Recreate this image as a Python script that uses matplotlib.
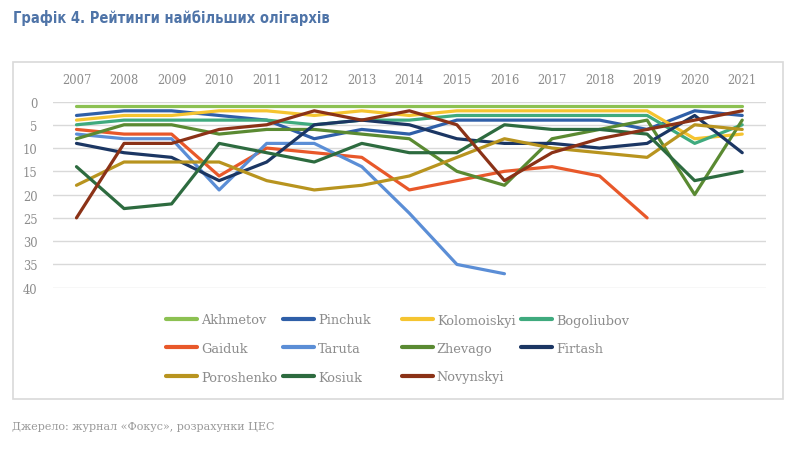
import matplotlib
matplotlib.use("Agg")
import matplotlib.pyplot as plt
import numpy as np
from matplotlib.patches import Rectangle

nan = np.nan
years = [2007, 2008, 2009, 2010, 2011, 2012, 2013, 2014, 2015, 2016, 2017, 2018, 2019, 2020, 2021]

names = ["Akhmetov", "Pinchuk", "Kolomoiskyi", "Bogoliubov", "Gaiduk", "Taruta",
         "Zhevago", "Firtash", "Poroshenko", "Kosiuk", "Novynskyi"]

akhmetov    = [1, 1, 1, 1, 1, 1, 1, 1, 1, 1, 1, 1, 1, 1, 1]
pinchuk     = [3, 2, 2, 3, 4, 8, 6, 7, 4, 4, 4, 4, 6, 2, 3]
kolomoiskyi = [4, 3, 3, 2, 2, 3, 2, 3, 2, 2, 2, 2, 2, 8, 7]
bogoliubov  = [5, 4, 4, 4, 4, 5, 4, 4, 3, 3, 3, 3, 3, 9, 5]
gaiduk      = [6, 7, 7, 16, 10, 11, 12, 19, 17, 15, 14, 16, 25, nan, nan]
taruta      = [7, 8, 8, 19, 9, 9, 14, 24, 35, 37, nan, nan, nan, nan, nan]
zhevago     = [8, 5, 5, 7, 6, 6, 7, 8, 15, 18, 8, 6, 4, 20, 4]
firtash     = [9, 11, 12, 17, 13, 5, 4, 5, 8, 9, 9, 10, 9, 3, 11]
poroshenko  = [18, 13, 13, 13, 17, 19, 18, 16, 12, 8, 10, 11, 12, 5, 6]
kosiuk      = [14, 23, 22, 9, 11, 13, 9, 11, 11, 5, 6, 6, 7, 17, 15]
novynskyi   = [25, 9, 9, 6, 5, 2, 4, 2, 5, 17, 11, 8, 6, 4, 2]

series = [akhmetov, pinchuk, kolomoiskyi, bogoliubov, gaiduk, taruta,
          zhevago, firtash, poroshenko, kosiuk, novynskyi]
colors = ["#8CC152", "#2F5FA8", "#F5C430", "#3FAA7E", "#E8582A", "#5B8ED6",
          "#5A8A32", "#1B3663", "#B8941F", "#2D6B3F", "#8B3217"]

yticks = [0, 5, 10, 15, 20, 25, 30, 35, 40]

W, H = 800, 464
fig = plt.figure(figsize=(W / 100, H / 100), dpi=100)

# chart frame
fig.patches.append(Rectangle((12.7 / W, 1 - 400 / H), (782.7 - 12.7) / W, (400 - 63.3) / H,
                             transform=fig.transFigure, facecolor="white",
                             edgecolor="#D9D9D9", linewidth=1.2, zorder=-5))

ax = fig.add_axes([52.7 / W, 1 - 288.7 / H, (766 - 52.7) / W, (288.7 - 102.5) / H])
ax.set_zorder(2)
ax.set_facecolor("none")

lines = []
for vals, name, c in zip(series, names, colors):
    ln, = ax.plot(years, vals, color=c, linewidth=2.3, label=name,
                  solid_joinstyle="round", solid_capstyle="round")
    lines.append(ln)

ax.set_xlim(2006.5, 2021.5)
ax.set_ylim(40, 0)
ax.set_yticks(yticks)
ax.set_xticks(years)
ax.xaxis.tick_top()
ax.grid(axis="y", color="#D9D9D9", linewidth=1.0)
ax.set_axisbelow(True)
for s in ax.spines.values():
    s.set_visible(False)
ax.tick_params(axis="x", length=0, pad=11, labelcolor="#8C8C8C", labelsize=8.3)
ax.tick_params(axis="y", length=0, pad=11, labelcolor="#8C8C8C", labelsize=8.3)
for lab in ax.get_xticklabels() + ax.get_yticklabels():
    lab.set_fontfamily("DejaVu Serif")

# legend: 4 columns, row-major order
col_x = [166, 283, 402, 521]
for j in range(4):
    hs = [lines[k] for k in range(j, len(lines), 4)]
    leg = fig.legend(handles=hs, labels=[h.get_label() for h in hs],
                     loc="upper left", bbox_to_anchor=(col_x[j] / W, 1 - 314.5 / H),
                     frameon=False, borderpad=0, borderaxespad=0,
                     handlelength=2.4, handletextpad=0.3, labelspacing=1.2,
                     prop=dict(family="DejaVu Serif", size=9.3))
    leg.set_zorder(3)
    for t in leg.get_texts():
        t.set_color("#8C8C8C")
    for lh in leg.get_lines():
        lh.set_linewidth(3.0)

fig.text(13 / W, 1 - 18 / H, "Графік 4. Рейтинги найбільших олігархів",
         family="DejaVu Sans", stretch="condensed", weight="bold",
         size=10.5, color="#4F74A8", va="center", ha="left")
fig.text(12 / W, 1 - 427 / H, "Джерело: журнал «Фокус», розрахунки ЦЕС",
         family="DejaVu Serif", size=8, color="#9A9A9A", va="center", ha="left")

fig.savefig("out.png", dpi=100)
